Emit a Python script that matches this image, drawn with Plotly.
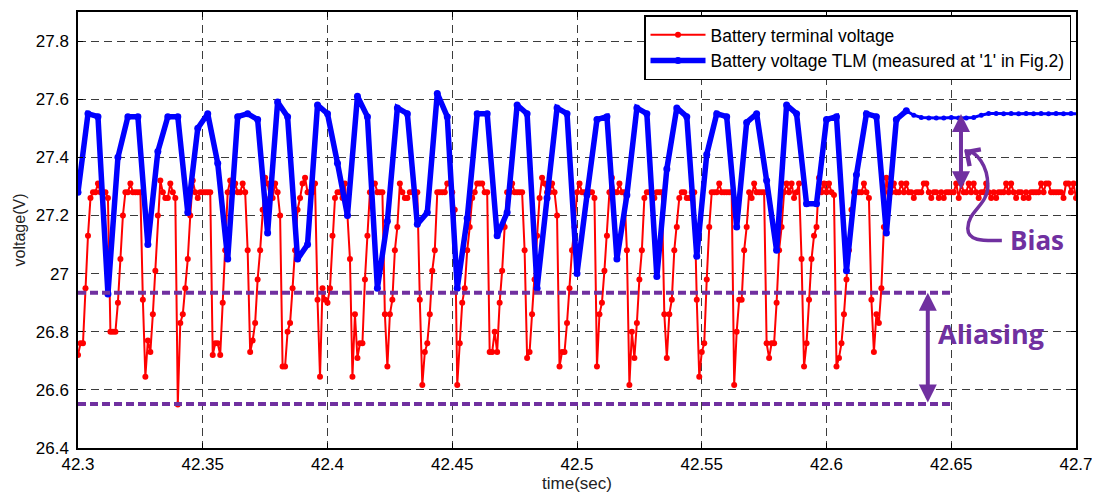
import plotly.graph_objects as go

# ---------------- data ----------------
t_start = 42.3
red_dt = 0.001
red_v = [
    26.72, 26.76, 26.76, 26.95, 27.13, 27.26, 27.28, 27.28, 27.31, 27.28, 27.28, 27.28, 27.26,
    26.80, 26.80, 26.80, 26.90, 27.05, 27.20, 27.28, 27.28, 27.31, 27.28, 27.28, 27.28, 27.28,
    26.91, 26.645, 26.77, 26.73, 26.86, 27.01, 27.20, 27.32, 27.28, 27.26, 27.26, 27.31, 27.28, 27.26,
    26.55, 26.83, 26.86, 26.95, 27.05, 27.20, 27.32, 27.28, 27.26, 27.28, 27.28, 27.28, 27.28, 27.28,
    26.72, 26.76, 26.76, 26.72, 26.90, 27.08, 27.28, 27.32, 27.28, 27.31, 27.28, 27.28, 27.31, 27.28,
    27.08, 26.73, 26.77, 26.83, 26.98, 27.08, 27.22, 27.33, 27.31, 27.26, 27.26, 27.31, 27.28, 27.20,
    26.68, 26.68, 26.80, 26.83, 26.95, 27.08, 27.22, 27.26, 27.31, 27.33, 27.28, 27.28, 27.28, 27.31,
    26.91, 26.645, 26.95, 26.91, 26.90, 26.95, 27.13, 27.26, 27.28, 27.28, 27.26, 27.31, 27.20, 27.05,
    26.645, 26.86, 26.71, 26.76, 26.76, 26.98, 27.13, 27.28, 27.31, 27.31, 27.28, 27.28, 27.28,
    26.86, 26.68, 26.86, 26.91, 27.08, 27.16, 27.31, 27.28, 27.26, 27.26, 27.28, 27.28, 27.28,
    27.28, 26.91, 26.617, 26.73, 26.76, 26.86, 27.01, 27.08, 27.28, 27.28, 27.28, 27.28, 27.31, 27.31, 27.28, 27.22,
    26.617, 26.76, 26.90, 26.95, 27.08, 27.16, 27.26, 27.28, 27.31, 27.31, 27.31, 27.28, 27.28,
    26.73, 26.73, 26.80, 26.73, 26.90, 27.01, 27.16, 27.28, 27.28, 27.31, 27.28, 27.28, 27.28, 27.28, 27.08,
    26.71, 26.73, 26.86, 26.98, 27.13, 27.26, 27.33, 27.31, 27.28, 27.28, 27.31, 27.28, 27.20,
    26.68, 26.73, 26.73, 26.83, 26.95, 27.08, 27.16, 27.28, 27.31, 27.28, 27.28, 27.28, 27.28, 27.28, 27.26,
    26.68, 26.86, 26.90, 27.01, 27.13, 27.28, 27.33, 27.28, 27.28, 27.31, 27.28, 27.28, 27.08,
    26.617, 26.80, 26.71, 26.83, 26.98, 27.08, 27.26, 27.28, 27.28, 27.28, 27.26, 27.28, 27.28, 27.28, 26.86,
    26.71, 26.86, 26.91, 27.08, 27.16, 27.26, 27.28, 27.28, 27.26, 27.26, 27.28, 27.28, 26.91,
    26.645, 26.73, 26.76, 26.98, 27.16, 27.28, 27.28, 27.28, 27.31, 27.28, 27.28, 27.28, 27.28, 27.28,
    26.617, 26.80, 26.91, 26.91, 27.08, 27.16, 27.28, 27.26, 27.31, 27.28, 27.28, 27.28, 27.28,
    26.76, 26.71, 26.76, 26.76, 26.90, 27.08, 27.16, 27.28, 27.31, 27.28, 27.31, 27.26, 27.28, 27.31, 27.05,
    26.68, 26.76, 26.91, 27.05, 27.13, 27.16, 27.33, 27.28, 27.31, 27.28, 27.31, 27.28, 27.27,
    26.68, 26.71, 26.76, 26.86, 26.98, 27.08, 27.22, 27.28, 27.28, 27.28, 27.28, 27.31, 27.28, 27.26, 26.91,
    26.73, 26.86, 26.83, 26.95, 27.16, 27.33,
    27.28, 27.28, 27.31, 27.28, 27.28, 27.31, 27.28, 27.31, 27.28, 27.28,
    27.26, 27.28, 27.28, 27.28, 27.31, 27.31, 27.28, 27.26, 27.28, 27.28,
    27.26, 27.28, 27.26, 27.28, 27.28, 27.28, 27.28, 27.31, 27.26, 27.31,
    27.28, 27.28, 27.31, 27.28, 27.31, 27.28, 27.26, 27.28, 27.28, 27.31,
    27.28, 27.26, 27.28, 27.26, 27.28, 27.28, 27.28, 27.31, 27.28, 27.31,
    27.28, 27.26, 27.28, 27.28, 27.26, 27.28, 27.26, 27.28, 27.28, 27.28,
    27.28, 27.31, 27.28, 27.31, 27.31, 27.28, 27.28, 27.28, 27.28, 27.28,
    27.26, 27.31, 27.31, 27.28, 27.31, 27.26,
]

blue_dt = 0.004
blue_v = [
    27.28, 27.55, 27.54, 26.93, 27.40, 27.54, 27.54, 27.10, 27.42, 27.54,
    27.54, 27.21, 27.50, 27.55, 27.38, 27.05, 27.54, 27.55, 27.53, 27.14,
    27.59, 27.54, 27.05, 27.10, 27.58, 27.55, 27.38, 27.20, 27.61, 27.54,
    26.95, 27.18, 27.57, 27.55, 27.17, 27.21, 27.62, 27.54, 26.95, 27.19,
    27.55, 27.55, 27.13, 27.21, 27.58, 27.55, 26.95, 27.26, 27.57, 27.55,
    27.00, 27.27, 27.53, 27.54, 27.05, 27.27, 27.57, 27.55, 26.99, 27.36,
    27.57, 27.54, 27.06, 27.41, 27.55, 27.54, 27.16, 27.52, 27.55, 27.32,
    27.08, 27.58, 27.55, 27.24, 27.24, 27.53, 27.54, 27.01, 27.34, 27.55,
    27.54, 27.14, 27.53, 27.56,
]

blue_tail_t0 = 42.632
blue_tail_dt = 0.003
blue_tail_v = [
    27.56, 27.545, 27.537, 27.535, 27.535, 27.535, 27.537, 27.535, 27.535, 27.537,
    27.545, 27.551, 27.551, 27.55, 27.551, 27.55, 27.551, 27.55, 27.551, 27.55,
    27.551, 27.55, 27.551, 27.55,
]

x_ticks = [42.3, 42.35, 42.4, 42.45, 42.5, 42.55, 42.6, 42.65, 42.7]
y_ticks = [26.4, 26.6, 26.8, 27.0, 27.2, 27.4, 27.6, 27.8]

alias_top, alias_bottom, alias_end = 26.934, 26.551, 42.65
bias_top, bias_bottom = 27.549, 27.285

red_name = "Battery terminal voltage"
blue_name = "Battery voltage TLM (measured at '1' in Fig.2)"

# ---------------- figure ----------------
red_t = [t_start + i * red_dt for i in range(len(red_v))]
blue_t = [t_start + i * blue_dt for i in range(len(blue_v))]
tail_t = [blue_tail_t0 + i * blue_tail_dt for i in range(len(blue_tail_v))]

PURPLE = "#7030A0"
FONT = "Liberation Sans, Arial, sans-serif"

fig = go.Figure()
fig.add_trace(go.Scatter(
    x=red_t, y=red_v, mode="lines+markers", name=red_name,
    line=dict(color="#FF0000", width=2), marker=dict(color="#FF0000", size=6),
))
fig.add_trace(go.Scatter(
    x=blue_t, y=blue_v, mode="lines+markers", name=blue_name,
    line=dict(color="#0000FF", width=5.5), marker=dict(color="#0000FF", size=7),
))
fig.add_trace(go.Scatter(
    x=tail_t, y=blue_tail_v, mode="lines+markers", showlegend=False,
    line=dict(color="#0000FF", width=3), marker=dict(color="#0000FF", size=5),
))

# purple dotted lines
for yv in (alias_top, alias_bottom):
    fig.add_shape(type="line", xref="x", yref="y", x0=t_start, x1=alias_end, y0=yv, y1=yv,
                  line=dict(color=PURPLE, width=4, dash="8px,4px"), layer="above")

# double arrows
fig.add_annotation(x=42.6406, y=alias_top, ax=42.6406, ay=alias_bottom, axref="x", ayref="y",
                   xref="x", yref="y", text="", showarrow=True, arrowside="end+start",
                   arrowhead=2, startarrowhead=2, arrowsize=0.9, startarrowsize=0.9,
                   arrowwidth=4, arrowcolor=PURPLE)
fig.add_annotation(x=42.6539, y=bias_top, ax=42.6539, ay=bias_bottom, axref="x", ayref="y",
                   xref="x", yref="y", text="", showarrow=True, arrowside="end+start",
                   arrowhead=2, startarrowhead=2, arrowsize=0.9, startarrowsize=0.9,
                   arrowwidth=4, arrowcolor=PURPLE)

# curved pointer for Bias
path = ("M 42.65542,27.4226 C 42.66024,27.4226 42.66466,27.3712 42.66466,27.3026 "
        "C 42.66466,27.2340 42.65663,27.2168 42.65663,27.1551 "
        "C 42.65663,27.1070 42.66426,27.1139 42.67028,27.1139")
fig.add_shape(type="path", xref="x", yref="y", path=path,
              line=dict(color=PURPLE, width=3.5), layer="above")
fig.add_annotation(x=42.6552, y=27.424, ax=42.6585, ay=27.405, axref="x", ayref="y",
                   xref="x", yref="y", text="", showarrow=True, arrowhead=4,
                   arrowsize=1.3, arrowwidth=3, arrowcolor=PURPLE)

fig.add_annotation(x=42.6440, y=26.793, xref="x", yref="y", text="<b>Aliasing</b>",
                   showarrow=False, xanchor="left", yanchor="middle",
                   font=dict(family="Open Sans, sans-serif", size=27, color=PURPLE))
fig.add_annotation(x=42.6728, y=27.114, xref="x", yref="y", text="<b>Bias</b>",
                   showarrow=False, xanchor="left", yanchor="middle",
                   font=dict(family="Open Sans, sans-serif", size=26, color=PURPLE))

GRID = "#3c3c3c"
# The page body has an 8px margin, so the figure is sized/margined to compensate.
fig.update_layout(
    width=1092, height=485,
    margin=dict(l=70, r=24, t=4, b=45, autoexpand=False),
    paper_bgcolor="white", plot_bgcolor="white",
    font=dict(family=FONT, size=17, color="black"),
    showlegend=True,
    legend=dict(x=0.995, y=0.992, xanchor="right", yanchor="top",
                bgcolor="white", bordercolor="black", borderwidth=1.5,
                font=dict(family=FONT, size=17.5, color="black"),
                itemwidth=55, tracegroupgap=0),
    xaxis=dict(range=[42.3, 42.7], tickvals=x_ticks, ticktext=[f"{v:g}" for v in x_ticks],
               showgrid=True, gridcolor=GRID, griddash="8px,5px", gridwidth=1,
               showline=True, linecolor="black", linewidth=1.5, mirror="ticks",
               ticks="inside", ticklen=5, tickcolor="black", zeroline=False,
               tickfont=dict(family=FONT, size=17, color="black"),
               title=dict(text="time(sec)", font=dict(family=FONT, size=17, color="#222"),
                          standoff=3)),
    yaxis=dict(range=[26.4, 27.9], tickvals=y_ticks, ticktext=[f"{v:g}" for v in y_ticks],
               showgrid=True, gridcolor=GRID, griddash="8px,5px", gridwidth=1,
               showline=True, linecolor="black", linewidth=1.5, mirror="ticks",
               ticks="inside", ticklen=5, tickcolor="black", zeroline=False,
               ticklabelstandoff=4,
               tickfont=dict(family=FONT, size=17, color="black"),
               title=dict(text="voltage(V)", font=dict(family=FONT, size=16, color="#222"),
                          standoff=6)),
)

fig.write_html("out.html")
